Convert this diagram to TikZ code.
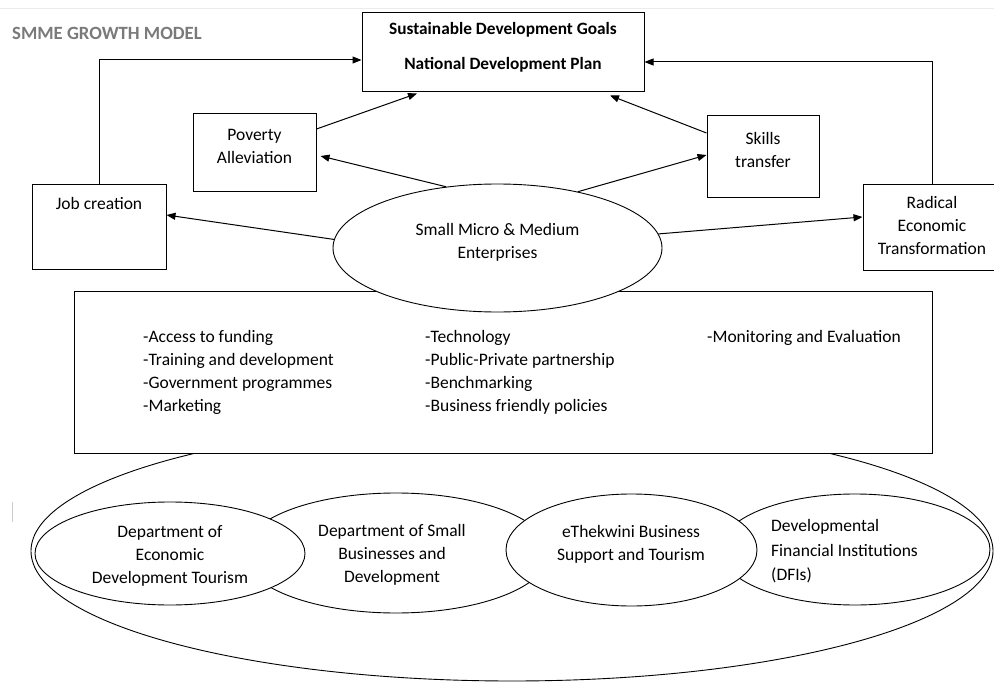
\documentclass[tikz,border=0pt]{standalone}
\usepackage{fontspec}
\setmainfont{Carlito}
\usetikzlibrary{arrows.meta,shapes.geometric}

\definecolor{titlegray}{HTML}{7A7A7A}

\tikzset{
  box/.style={draw, line width=1pt, fill=white, inner sep=0pt},
  blob/.style={draw, ellipse, line width=0.9pt, fill=white, inner sep=0pt},
  txt/.style={font=\fontsize{17.5}{23}\selectfont, align=center, inner sep=0pt},
  link/.style={line width=1pt, -{Triangle[length=9pt,width=7pt]}},
}

\begin{document}
\begin{tikzpicture}[x=1pt,y=-1pt]

    % Page frame, pixel grid of the screenshot
    \useasboundingbox (0,0) rectangle (994,682);
    \draw[gray!15, line width=0.8pt] (0,8) -- (994,8);
    \draw[gray!40, line width=0.8pt] (12,502) -- (12,522);

    % Title
    \node[anchor=west, inner sep=0pt, text=titlegray, font=\fontsize{18.7}{22}\selectfont\bfseries] (title) at (12,33) {SMME GROWTH MODEL};

    % Goals at the top
    \node[box, minimum width=282pt, minimum height=79pt] (sdg) at (503,52.5) {};
    \node[txt, font=\fontsize{17.3}{23}\selectfont\bfseries] (sdgtxt) at (503,47.5) {Sustainable Development Goals\\[12pt]National Development Plan};

    % Outcome boxes
    \node[box, minimum width=123pt, minimum height=78pt] (pov) at (254.5,153) {};
    \node[txt] (povtxt) at (254.5,146.5) {Poverty\\Alleviation};

    \node[box, minimum width=112pt, minimum height=82pt] (skl) at (763,157) {};
    \node[txt] (skltxt) at (763,150) {Skills\\transfer};

    \node[box, minimum width=134pt, minimum height=84pt] (job) at (99,227) {};
    \node[txt] (jobtxt) at (99,203) {Job creation};

    \node[box, minimum width=138pt, minimum height=85pt] (ret) at (932,227.5) {};
    \node[txt] (rettxt) at (932,225) {Radical\\Economic\\Transformation};

    % Stakeholders (outer ring first, the box sits over it)
    \node[blob, minimum width=962pt, minimum height=260pt] (ring) at (512,551) {};

    % Enablers box
    \node[box, minimum width=858pt, minimum height=162pt] (tools) at (503,372) {};
    \node[txt, align=left, anchor=north west] (colA) at (143,330) {-Access to funding\\-Training and development\\-Government programmes\\-Marketing};
    \node[txt, align=left, anchor=north west] (colB) at (425,330) {-Technology\\-Public-Private partnership\\-Benchmarking\\-Business friendly policies};
    \node[txt, align=left, anchor=north west] (colC) at (707,330) {-Monitoring and Evaluation};

    % SMME hub, drawn over the top edge of the box
    \node[blob, minimum width=329pt, minimum height=128pt] (smme) at (497.5,248) {};
    \node[txt] (smmetxt) at (497.5,242) {Small Micro \& Medium\\Enterprises};

    % Institutions inside the ring
    \node[blob, minimum width=306pt, minimum height=120pt] (dsbd) at (396,553) {};
    \node[blob, minimum width=270pt, minimum height=111pt] (dfi) at (855,549.5) {};
    \node[blob, minimum width=270pt, minimum height=103pt] (dedt) at (170,553.5) {};
    \node[blob, minimum width=251pt, minimum height=112pt] (ebst) at (631.5,550) {};

    \node[txt] (dedttxt) at (170,556) {Department of\\Economic\\Development Tourism};
    \node[txt] (dsbdtxt) at (392,555) {Department of Small\\Businesses and\\Development};
    \node[txt] (ebsttxt) at (631,544) {eThekwini Business\\Support and Tourism};
    \node[txt, align=left, anchor=west, font=\fontsize{17.5}{24.5}\selectfont] (dfitxt) at (771,551.5) {Developmental\\Financial Institutions\\(DFIs)};

    % Arrows out of the hub
    \draw[link] (smme.177) -- ([yshift=12pt]job.east);
    \draw[link] (smme.130) -- ([xshift=4pt,yshift=-3pt]pov.east);
    \draw[link] (smme.35) -- ([yshift=2pt]skl.west);
    \draw[link] (smme.5) -- ([yshift=10.5pt]ret.west);

    % Arrows up to the goals
    \draw[link] ([yshift=24pt]pov.east) -- ([xshift=-86pt,yshift=-1pt]sdg.south);
    \draw[link] ([yshift=24pt]skl.west) -- ([xshift=107pt,yshift=-3pt]sdg.south);
    \draw[link] (job.north) |- ([yshift=-7.5pt]sdg.west);
    \draw[link] (ret.north) |- ([yshift=-9.5pt]sdg.east);

\end{tikzpicture}
\end{document}
